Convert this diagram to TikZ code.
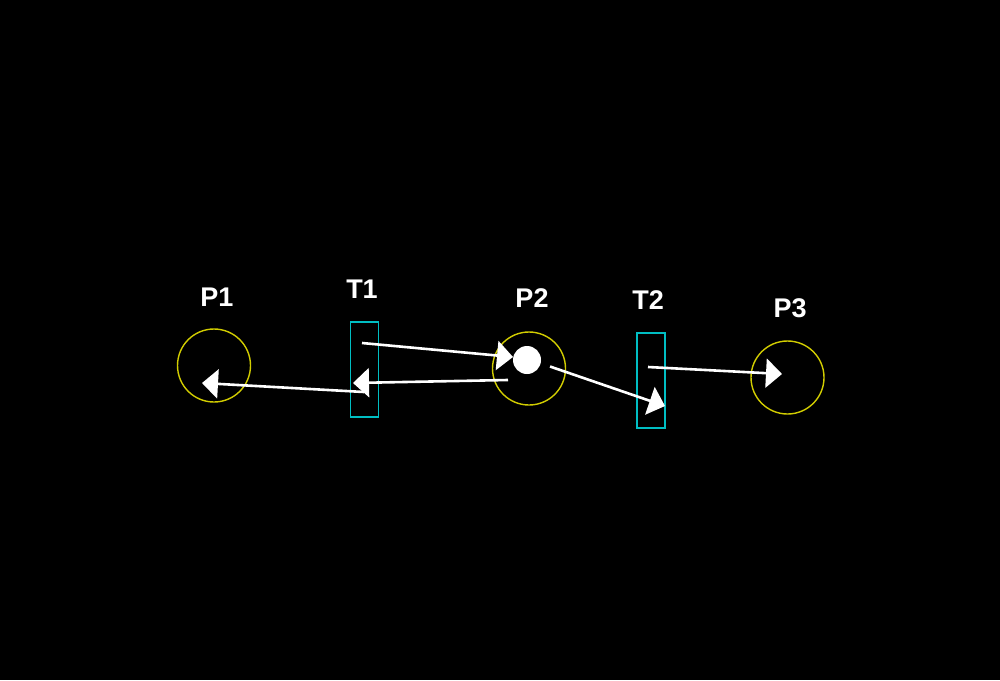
\documentclass[tikz,border=0pt]{standalone}
\usepackage{fontspec}
\setmainfont{Liberation Sans}
\usetikzlibrary{arrows.meta,calc}
\definecolor{placecol}{RGB}{210,205,0}
\definecolor{transcol}{RGB}{0,190,195}
\begin{document}
\begin{tikzpicture}[x=1pt,y=-1pt,
  place/.style={circle,draw=placecol,line width=1.4pt,minimum size=73pt,inner sep=0pt},
  trans/.style={rectangle,draw=transcol,line width=1.4pt,minimum width=28pt,minimum height=95pt,inner sep=0pt},
  token/.style={circle,fill=white,minimum size=28pt,inner sep=0pt},
  lbl/.style={text=white,font=\bfseries\fontsize{27}{30}\selectfont,inner sep=0pt},
  arc/.style={draw=white,line width=2.6pt,-{Triangle[length=16pt,width=29pt]}}]
\fill[black] (0,0) rectangle (1000,680);
\useasboundingbox (0,0) rectangle (1000,680);
\node[place] (P1) at (214,365.5) {};
\node[trans] (T1) at (364.5,369.5) {};
\node[place] (P2) at (529,368.5) {};
\node[token] (tok) at (527,360) {};
\node[trans] (T2) at (651,380.5) {};
\node[place] (P3) at (787.5,377.5) {};
\node[lbl] (lP1) at (217,297) {P1};
\node[lbl] (lT1) at (362,289) {T1};
\node[lbl] (lP2) at (532,298) {P2};
\node[lbl] (lT2) at (648,300) {T2};
\node[lbl] (lP3) at (790,308) {P3};
\draw[arc] ($(T1)+(-2.5,-26.5)$) -- ($(P2)+(-16,-11.5)$);
\draw[arc] ($(P2)+(-21,11.5)$) -- ($(T1)+(-11.5,13.5)$);
\draw[arc] ($(T1)+(-0.5,22.5)$) -- ($(P1)+(-12,17.5)$);
\draw[arc] ($(P2)+(21,-2)$) -- ($(T2)+(14,25.5)$);
\draw[arc] ($(T2)+(-3,-13.5)$) -- ($(P3)+(-5.5,-3.5)$);
\end{tikzpicture}
\end{document}
